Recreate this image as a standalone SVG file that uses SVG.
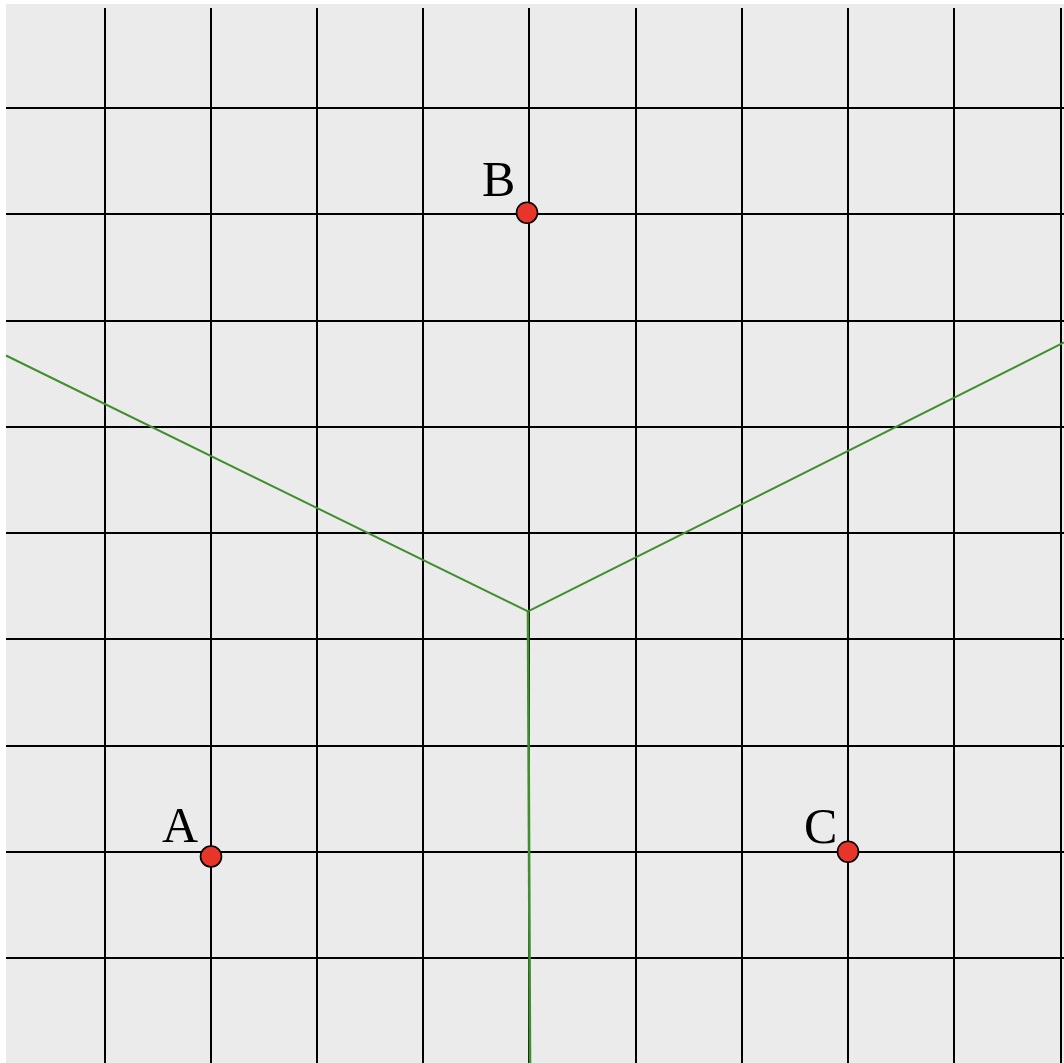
<svg xmlns="http://www.w3.org/2000/svg" width="1064" height="1063" viewBox="0 0 1064 1063">
<style>
.grid line{stroke:#000;stroke-width:2}
.bis{stroke:#3f8f2f;stroke-width:2;fill:none}
.pt{fill:#e8352a;stroke:#000;stroke-width:1.6}
.lbl{font-family:"Liberation Serif","Times New Roman",serif;font-size:50px;fill:#000}
</style>
<rect x="0" y="0" width="1064" height="1063" fill="#fff"/>
<rect x="6" y="4" width="1058" height="1059" fill="#ebebeb"/>
<g class="grid">
<line x1="105" y1="8" x2="105" y2="1063"/>
<line x1="211" y1="8" x2="211" y2="1063"/>
<line x1="317" y1="8" x2="317" y2="1063"/>
<line x1="423" y1="8" x2="423" y2="1063"/>
<line x1="529" y1="8" x2="529" y2="1063"/>
<line x1="636" y1="8" x2="636" y2="1063"/>
<line x1="742" y1="8" x2="742" y2="1063"/>
<line x1="848" y1="8" x2="848" y2="1063"/>
<line x1="954" y1="8" x2="954" y2="1063"/>
<line x1="1061" y1="8" x2="1061" y2="1063"/>
<line x1="6" y1="108" x2="1064" y2="108"/>
<line x1="6" y1="214" x2="1064" y2="214"/>
<line x1="6" y1="321" x2="1064" y2="321"/>
<line x1="6" y1="427" x2="1064" y2="427"/>
<line x1="6" y1="533" x2="1064" y2="533"/>
<line x1="6" y1="639" x2="1064" y2="639"/>
<line x1="6" y1="746" x2="1064" y2="746"/>
<line x1="6" y1="852" x2="1064" y2="852"/>
<line x1="6" y1="958" x2="1064" y2="958"/>
</g>
<g id="connectors">
<polyline class="bis" points="6,355.5 528,611.5 1064,342.5"/>
<line class="bis" x1="528" y1="611.5" x2="530" y2="1063" style="stroke-width:2.6"/>
</g>
<g id="A"><circle class="pt" cx="211" cy="856.5" r="10.5"/><text class="lbl" x="162" y="842">A</text></g>
<g id="B"><circle class="pt" cx="527" cy="212.7" r="10.5"/><text class="lbl" x="482" y="196">B</text></g>
<g id="C"><circle class="pt" cx="848" cy="851.7" r="10.5"/><text class="lbl" x="804" y="843">C</text></g>
</svg>
